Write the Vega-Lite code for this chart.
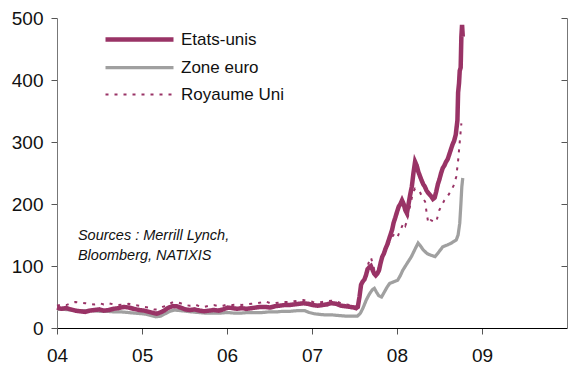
{
  "$schema": "https://vega.github.io/schema/vega-lite/v6.json",
  "width": 510,
  "height": 310,
  "autosize": {"type": "none"},
  "padding": {"left": 57, "top": 18, "right": 4, "bottom": 38},
  "background": "white",
  "config": {
    "view": {"stroke": null},
    "font": "Liberation Sans",
    "axis": {"grid": false, "labelFont": "Liberation Sans", "labelColor": "#111111", "title": null}
  },
  "datasets": {
    "us": [
      {"date": "2004-01-01", "v": 33}, {"date": "2004-01-20", "v": 31}, {"date": "2004-02-10", "v": 32}, {"date": "2004-03-01", "v": 30},
      {"date": "2004-03-20", "v": 28}, {"date": "2004-04-10", "v": 27}, {"date": "2004-05-01", "v": 26}, {"date": "2004-05-20", "v": 28},
      {"date": "2004-06-10", "v": 29}, {"date": "2004-07-01", "v": 30}, {"date": "2004-07-20", "v": 28}, {"date": "2004-08-10", "v": 29},
      {"date": "2004-09-01", "v": 31}, {"date": "2004-09-20", "v": 32}, {"date": "2004-10-15", "v": 34}, {"date": "2004-11-05", "v": 33},
      {"date": "2004-11-25", "v": 31}, {"date": "2004-12-20", "v": 29}, {"date": "2005-01-10", "v": 28}, {"date": "2005-01-30", "v": 26},
      {"date": "2005-02-20", "v": 24}, {"date": "2005-03-05", "v": 23}, {"date": "2005-03-20", "v": 25}, {"date": "2005-04-05", "v": 28},
      {"date": "2005-04-20", "v": 32}, {"date": "2005-05-10", "v": 35}, {"date": "2005-05-30", "v": 35}, {"date": "2005-06-15", "v": 33},
      {"date": "2005-07-05", "v": 30}, {"date": "2005-07-25", "v": 29}, {"date": "2005-08-15", "v": 30}, {"date": "2005-09-05", "v": 28},
      {"date": "2005-09-25", "v": 27}, {"date": "2005-10-15", "v": 28}, {"date": "2005-11-05", "v": 29}, {"date": "2005-11-25", "v": 28},
      {"date": "2005-12-15", "v": 30}, {"date": "2006-01-05", "v": 33}, {"date": "2006-01-25", "v": 32}, {"date": "2006-02-15", "v": 31},
      {"date": "2006-03-05", "v": 32}, {"date": "2006-03-25", "v": 31}, {"date": "2006-04-15", "v": 32}, {"date": "2006-05-05", "v": 33},
      {"date": "2006-05-25", "v": 34}, {"date": "2006-06-15", "v": 34}, {"date": "2006-07-05", "v": 33}, {"date": "2006-07-25", "v": 35},
      {"date": "2006-08-15", "v": 36}, {"date": "2006-09-05", "v": 37}, {"date": "2006-09-25", "v": 37}, {"date": "2006-10-15", "v": 38},
      {"date": "2006-11-05", "v": 39}, {"date": "2006-11-25", "v": 40}, {"date": "2006-12-15", "v": 39}, {"date": "2007-01-05", "v": 37},
      {"date": "2007-01-25", "v": 36}, {"date": "2007-02-15", "v": 37}, {"date": "2007-03-05", "v": 38}, {"date": "2007-03-25", "v": 40},
      {"date": "2007-04-15", "v": 39}, {"date": "2007-05-05", "v": 36}, {"date": "2007-05-25", "v": 35}, {"date": "2007-06-15", "v": 34},
      {"date": "2007-07-01", "v": 33}, {"date": "2007-07-10", "v": 32}, {"date": "2007-07-17", "v": 34}, {"date": "2007-07-24", "v": 50},
      {"date": "2007-07-31", "v": 70}, {"date": "2007-08-07", "v": 75}, {"date": "2007-08-14", "v": 78}, {"date": "2007-08-21", "v": 85},
      {"date": "2007-08-28", "v": 95}, {"date": "2007-09-04", "v": 98}, {"date": "2007-09-11", "v": 100}, {"date": "2007-09-18", "v": 94},
      {"date": "2007-09-25", "v": 88}, {"date": "2007-10-02", "v": 85}, {"date": "2007-10-09", "v": 88}, {"date": "2007-10-16", "v": 93},
      {"date": "2007-10-23", "v": 105}, {"date": "2007-10-30", "v": 115}, {"date": "2007-11-06", "v": 120}, {"date": "2007-11-13", "v": 128},
      {"date": "2007-11-20", "v": 134}, {"date": "2007-11-27", "v": 142}, {"date": "2007-12-04", "v": 150}, {"date": "2007-12-11", "v": 158},
      {"date": "2007-12-18", "v": 170}, {"date": "2007-12-25", "v": 178}, {"date": "2008-01-02", "v": 188}, {"date": "2008-01-09", "v": 196},
      {"date": "2008-01-16", "v": 200}, {"date": "2008-01-23", "v": 206}, {"date": "2008-01-30", "v": 200}, {"date": "2008-02-06", "v": 190},
      {"date": "2008-02-13", "v": 185}, {"date": "2008-02-20", "v": 200}, {"date": "2008-02-27", "v": 215}, {"date": "2008-03-05", "v": 228},
      {"date": "2008-03-12", "v": 250}, {"date": "2008-03-19", "v": 268}, {"date": "2008-03-26", "v": 262}, {"date": "2008-04-02", "v": 252},
      {"date": "2008-04-09", "v": 245}, {"date": "2008-04-16", "v": 238}, {"date": "2008-04-23", "v": 232}, {"date": "2008-04-30", "v": 228},
      {"date": "2008-05-07", "v": 222}, {"date": "2008-05-14", "v": 218}, {"date": "2008-05-21", "v": 215}, {"date": "2008-05-28", "v": 212},
      {"date": "2008-06-04", "v": 208}, {"date": "2008-06-11", "v": 210}, {"date": "2008-06-18", "v": 220}, {"date": "2008-06-25", "v": 232},
      {"date": "2008-07-02", "v": 240}, {"date": "2008-07-09", "v": 250}, {"date": "2008-07-16", "v": 258}, {"date": "2008-07-23", "v": 262},
      {"date": "2008-07-30", "v": 268}, {"date": "2008-08-06", "v": 272}, {"date": "2008-08-13", "v": 280}, {"date": "2008-08-20", "v": 288},
      {"date": "2008-08-27", "v": 296}, {"date": "2008-09-03", "v": 302}, {"date": "2008-09-10", "v": 312}, {"date": "2008-09-17", "v": 335},
      {"date": "2008-09-20", "v": 380}, {"date": "2008-09-24", "v": 395}, {"date": "2008-09-27", "v": 415}, {"date": "2008-10-01", "v": 420},
      {"date": "2008-10-04", "v": 470}, {"date": "2008-10-07", "v": 489}, {"date": "2008-10-10", "v": 470}
    ],
    "ez": [
      {"date": "2004-01-01", "v": 30}, {"date": "2004-02-01", "v": 30}, {"date": "2004-03-01", "v": 29}, {"date": "2004-04-01", "v": 28},
      {"date": "2004-05-01", "v": 28}, {"date": "2004-06-01", "v": 28}, {"date": "2004-07-01", "v": 27}, {"date": "2004-08-01", "v": 27},
      {"date": "2004-09-01", "v": 26}, {"date": "2004-10-01", "v": 26}, {"date": "2004-11-01", "v": 25}, {"date": "2004-12-01", "v": 24},
      {"date": "2005-01-01", "v": 23}, {"date": "2005-01-20", "v": 22}, {"date": "2005-02-10", "v": 20}, {"date": "2005-03-01", "v": 18},
      {"date": "2005-03-20", "v": 19}, {"date": "2005-04-10", "v": 23}, {"date": "2005-05-01", "v": 27}, {"date": "2005-05-20", "v": 29},
      {"date": "2005-06-15", "v": 28}, {"date": "2005-07-10", "v": 27}, {"date": "2005-08-01", "v": 26}, {"date": "2005-09-01", "v": 25},
      {"date": "2005-10-01", "v": 24}, {"date": "2005-11-01", "v": 24}, {"date": "2005-12-01", "v": 24}, {"date": "2006-01-01", "v": 25},
      {"date": "2006-02-01", "v": 24}, {"date": "2006-03-01", "v": 24}, {"date": "2006-04-01", "v": 25}, {"date": "2006-05-01", "v": 25},
      {"date": "2006-06-01", "v": 25}, {"date": "2006-07-01", "v": 26}, {"date": "2006-08-01", "v": 26}, {"date": "2006-09-01", "v": 27},
      {"date": "2006-10-01", "v": 27}, {"date": "2006-11-01", "v": 28}, {"date": "2006-12-01", "v": 28}, {"date": "2006-12-20", "v": 25},
      {"date": "2007-01-10", "v": 23}, {"date": "2007-02-01", "v": 22}, {"date": "2007-03-01", "v": 21}, {"date": "2007-04-01", "v": 21},
      {"date": "2007-05-01", "v": 20}, {"date": "2007-06-01", "v": 19}, {"date": "2007-07-01", "v": 19}, {"date": "2007-07-15", "v": 19},
      {"date": "2007-07-28", "v": 24}, {"date": "2007-08-08", "v": 32}, {"date": "2007-08-22", "v": 45}, {"date": "2007-09-05", "v": 55},
      {"date": "2007-09-18", "v": 62}, {"date": "2007-09-26", "v": 64}, {"date": "2007-10-05", "v": 58}, {"date": "2007-10-15", "v": 52},
      {"date": "2007-10-27", "v": 50}, {"date": "2007-11-08", "v": 58}, {"date": "2007-11-20", "v": 66}, {"date": "2007-12-01", "v": 72},
      {"date": "2007-12-15", "v": 74}, {"date": "2008-01-04", "v": 77}, {"date": "2008-01-15", "v": 84}, {"date": "2008-01-26", "v": 93},
      {"date": "2008-02-10", "v": 102}, {"date": "2008-03-03", "v": 115}, {"date": "2008-03-20", "v": 128}, {"date": "2008-04-01", "v": 137},
      {"date": "2008-04-12", "v": 132}, {"date": "2008-04-23", "v": 126}, {"date": "2008-05-10", "v": 120}, {"date": "2008-05-22", "v": 118},
      {"date": "2008-06-13", "v": 115}, {"date": "2008-06-28", "v": 122}, {"date": "2008-07-16", "v": 131}, {"date": "2008-08-05", "v": 134},
      {"date": "2008-08-22", "v": 137}, {"date": "2008-09-12", "v": 142}, {"date": "2008-09-20", "v": 150}, {"date": "2008-09-27", "v": 169},
      {"date": "2008-10-02", "v": 200}, {"date": "2008-10-06", "v": 228}, {"date": "2008-10-10", "v": 242}
    ],
    "uk": [
      {"date": "2004-01-01", "v": 36}, {"date": "2004-01-20", "v": 38}, {"date": "2004-02-10", "v": 37}, {"date": "2004-03-01", "v": 40},
      {"date": "2004-03-20", "v": 42}, {"date": "2004-04-10", "v": 41}, {"date": "2004-05-01", "v": 40}, {"date": "2004-05-20", "v": 39},
      {"date": "2004-06-10", "v": 38}, {"date": "2004-07-01", "v": 40}, {"date": "2004-07-20", "v": 38}, {"date": "2004-08-10", "v": 40},
      {"date": "2004-09-01", "v": 38}, {"date": "2004-09-20", "v": 37}, {"date": "2004-10-15", "v": 38}, {"date": "2004-11-05", "v": 39},
      {"date": "2004-11-25", "v": 37}, {"date": "2004-12-20", "v": 36}, {"date": "2005-01-10", "v": 34}, {"date": "2005-01-30", "v": 33},
      {"date": "2005-02-20", "v": 30}, {"date": "2005-03-05", "v": 30}, {"date": "2005-03-20", "v": 32}, {"date": "2005-04-05", "v": 35},
      {"date": "2005-04-20", "v": 38}, {"date": "2005-05-10", "v": 41}, {"date": "2005-05-30", "v": 42}, {"date": "2005-06-15", "v": 40},
      {"date": "2005-07-05", "v": 37}, {"date": "2005-07-25", "v": 36}, {"date": "2005-08-15", "v": 38}, {"date": "2005-09-05", "v": 35},
      {"date": "2005-09-25", "v": 34}, {"date": "2005-10-15", "v": 36}, {"date": "2005-11-05", "v": 37}, {"date": "2005-11-25", "v": 35},
      {"date": "2005-12-15", "v": 36}, {"date": "2006-01-05", "v": 38}, {"date": "2006-01-25", "v": 37}, {"date": "2006-02-15", "v": 38},
      {"date": "2006-03-05", "v": 37}, {"date": "2006-03-25", "v": 38}, {"date": "2006-04-15", "v": 39}, {"date": "2006-05-05", "v": 40},
      {"date": "2006-05-25", "v": 41}, {"date": "2006-06-15", "v": 43}, {"date": "2006-07-05", "v": 40}, {"date": "2006-07-25", "v": 40},
      {"date": "2006-08-15", "v": 41}, {"date": "2006-09-05", "v": 42}, {"date": "2006-09-25", "v": 42}, {"date": "2006-10-15", "v": 43},
      {"date": "2006-11-05", "v": 44}, {"date": "2006-11-25", "v": 45}, {"date": "2006-12-15", "v": 44}, {"date": "2007-01-05", "v": 42},
      {"date": "2007-01-25", "v": 41}, {"date": "2007-02-15", "v": 42}, {"date": "2007-03-05", "v": 43}, {"date": "2007-03-25", "v": 44},
      {"date": "2007-04-15", "v": 43}, {"date": "2007-05-05", "v": 40}, {"date": "2007-05-25", "v": 38}, {"date": "2007-06-15", "v": 37},
      {"date": "2007-07-01", "v": 36}, {"date": "2007-07-10", "v": 35}, {"date": "2007-07-17", "v": 36}, {"date": "2007-07-24", "v": 48},
      {"date": "2007-07-31", "v": 65}, {"date": "2007-08-07", "v": 72}, {"date": "2007-08-14", "v": 80}, {"date": "2007-08-21", "v": 90},
      {"date": "2007-08-28", "v": 100}, {"date": "2007-09-04", "v": 108}, {"date": "2007-09-11", "v": 114}, {"date": "2007-09-18", "v": 105},
      {"date": "2007-09-25", "v": 95}, {"date": "2007-10-02", "v": 90}, {"date": "2007-10-09", "v": 92}, {"date": "2007-10-16", "v": 98},
      {"date": "2007-10-23", "v": 105}, {"date": "2007-10-30", "v": 112}, {"date": "2007-11-06", "v": 118}, {"date": "2007-11-13", "v": 124},
      {"date": "2007-11-20", "v": 130}, {"date": "2007-11-27", "v": 136}, {"date": "2007-12-04", "v": 142}, {"date": "2007-12-11", "v": 147},
      {"date": "2007-12-18", "v": 150}, {"date": "2007-12-25", "v": 148}, {"date": "2008-01-02", "v": 145}, {"date": "2008-01-09", "v": 152},
      {"date": "2008-01-16", "v": 158}, {"date": "2008-01-23", "v": 164}, {"date": "2008-01-30", "v": 170}, {"date": "2008-02-06", "v": 165},
      {"date": "2008-02-13", "v": 172}, {"date": "2008-02-20", "v": 185}, {"date": "2008-02-27", "v": 198}, {"date": "2008-03-05", "v": 210},
      {"date": "2008-03-12", "v": 220}, {"date": "2008-03-19", "v": 225}, {"date": "2008-03-26", "v": 224}, {"date": "2008-04-08", "v": 220},
      {"date": "2008-04-20", "v": 210}, {"date": "2008-05-01", "v": 204}, {"date": "2008-05-08", "v": 185}, {"date": "2008-05-15", "v": 169},
      {"date": "2008-05-26", "v": 174}, {"date": "2008-06-06", "v": 172}, {"date": "2008-06-18", "v": 171}, {"date": "2008-07-01", "v": 190},
      {"date": "2008-07-12", "v": 198}, {"date": "2008-07-23", "v": 206}, {"date": "2008-08-05", "v": 212}, {"date": "2008-08-22", "v": 222},
      {"date": "2008-09-01", "v": 230}, {"date": "2008-09-12", "v": 244}, {"date": "2008-09-20", "v": 270}, {"date": "2008-09-27", "v": 300},
      {"date": "2008-10-04", "v": 330}
    ],
    "note": [
      {"date": "2004-03-31", "v": 148, "text": "Sources : Merrill Lynch,"},
      {"date": "2004-03-31", "v": 116, "text": "Bloomberg, NATIXIS"}
    ]
  },
  "layer": [
    {
      "encoding": {
        "x": {
          "field": "date", "type": "temporal",
          "scale": {"domain": [{"year": 2004, "month": 1, "date": 1}, {"year": 2010, "month": 1, "date": 1}]},
          "axis": {
            "values": [{"year": 2004, "month": 1, "date": 1}, {"year": 2005, "month": 1, "date": 1}, {"year": 2006, "month": 1, "date": 1},
                       {"year": 2007, "month": 1, "date": 1}, {"year": 2008, "month": 1, "date": 1}, {"year": 2009, "month": 1, "date": 1}],
            "format": "%y", "labelFontSize": 19, "labelPadding": 12, "tickSize": 6, "domainColor": "#000000", "tickColor": "#555555",
            "labelFlush": false, "labelOverlap": false
          }
        },
        "y": {
          "field": "v", "type": "quantitative",
          "scale": {"domain": [0, 500], "nice": false},
          "axis": {"values": [0, 100, 200, 300, 400, 500], "labelFontSize": 19, "labelPadding": 8, "tickSize": 6,
                   "domainColor": "#777777", "tickColor": "#555555"}
        },
        "color": {"field": "series", "type": "nominal", "scale": {"domain": ["Etats-unis", "Zone euro", "Royaume Uni"], "range": ["#993366", "#a0a0a0", "#993366"]},
                  "legend": {"orient": "none", "legendX": 74, "legendY": 13, "title": null, "symbolType": "M-8.5,0H8.5", "symbolSize": 64,
                             "labelFontSize": 17, "labelFont": "Liberation Sans", "labelColor": "#111111", "labelOffset": 33, "rowPadding": 9, "padding": 0}},
        "strokeWidth": {"field": "series", "type": "nominal", "scale": {"domain": ["Etats-unis", "Zone euro", "Royaume Uni"], "range": [4.5, 2, 2]}, "title": null},
        "strokeDash": {"field": "series", "type": "nominal", "scale": {"domain": ["Etats-unis", "Zone euro", "Royaume Uni"], "range": [[1, 0], [1, 0], [3, 6]]}, "title": null}
      },
      "layer": [
        {
          "data": {"name": "ez"},
          "transform": [{"calculate": "'Zone euro'", "as": "series"}],
          "mark": {"type": "line"}
        },
        {
          "data": {"name": "uk"},
          "transform": [{"calculate": "'Royaume Uni'", "as": "series"}],
          "mark": {"type": "line"}
        },
        {
          "data": {"name": "us"},
          "transform": [{"calculate": "'Etats-unis'", "as": "series"}],
          "mark": {"type": "line"}
        },
        {
          "data": {"name": "note"},
          "mark": {"type": "text", "align": "left", "baseline": "middle", "font": "Liberation Sans", "fontStyle": "italic", "fontSize": 14.5, "color": "#111111"},
          "encoding": {"text": {"field": "text"}, "color": {"value": "#111111"}, "strokeWidth": null, "strokeDash": null}
        }
      ]
    },
    {
      "data": {"values": [{"v": 0}]},
      "mark": {"type": "rule", "opacity": 0},
      "encoding": {
        "y": {"field": "v", "type": "quantitative", "scale": {"domain": [0, 500], "nice": false},
              "axis": {"orient": "right", "values": [100, 200, 300, 400, 500], "labels": false, "tickSize": -6, "domainColor": "#777777", "tickColor": "#555555"}}
      }
    }
  ],
  "resolve": {"axis": {"y": "independent"}}
}
